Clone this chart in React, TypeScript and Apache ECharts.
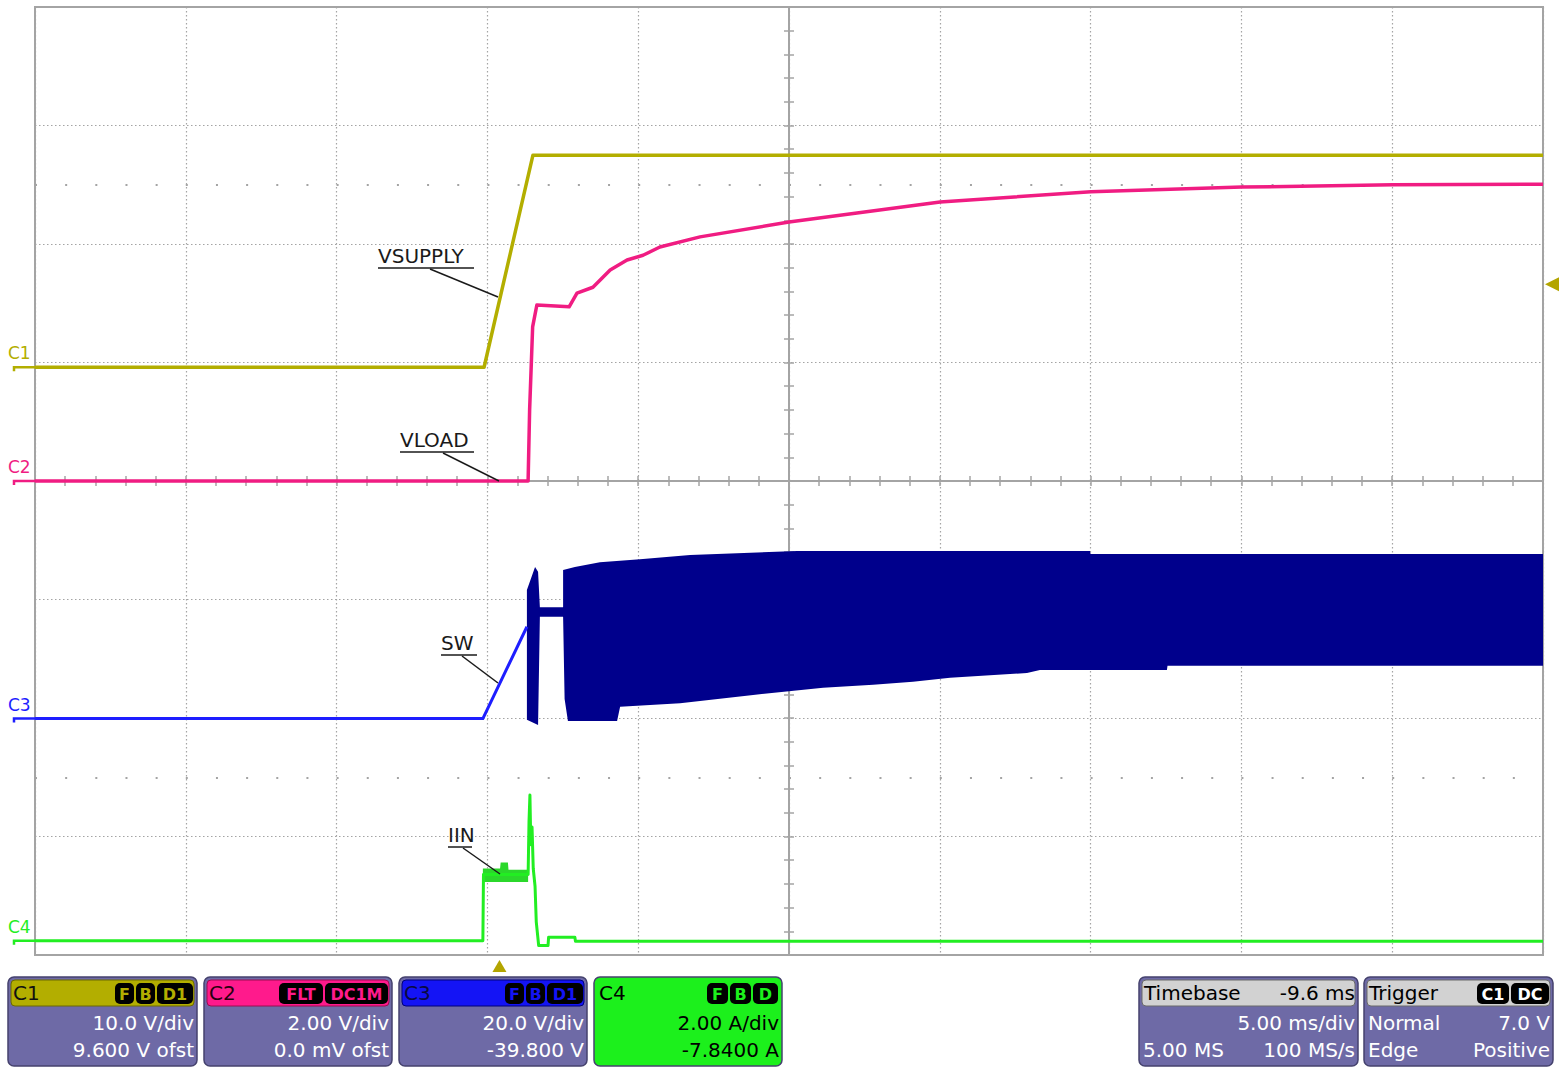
import React, { useEffect, useRef } from "react";
import * as echarts from "echarts";

// ---- Scope settings ----
const TIMEBASE_DELAY_MS = -9.6; // screen centre relative to trigger
const SCREEN_HALF_MS = 25; // 5 ms/div * 5 div
const DIV_HALF = 4;
const CH1 = { scale: 10, offset: 9.6 };
const CH2 = { scale: 2, offset: 0 };
const CH3 = { scale: 20, offset: -39.8 };
const CH4 = { scale: 2, offset: -7.84 };
const TRIGGER_LEVEL_V = 7.0;

// ---- Colours ----
const COL1 = "#b3ae00";
const COL2 = "#f01c82";
const COL3 = "#1e1eff";
const COL3_BAND = "#00008c";
const COL4 = "#22ee22";

// ---- C1 VSUPPLY (V), time in ms from trigger ----
const C1_T = [-15.4, -0.51, 1.11, 34.6];
const C1_V = [0, 0, 17.9, 17.9];

// ---- C2 VLOAD (V) ----
const C2_T = [-15.4, 0.95, 1.0, 1.1, 1.24, 2.31, 2.57, 3.1, 3.67, 4.23, 4.76, 5.32, 6.65, 9.6, 14.61, 19.61, 24.62, 29.63, 34.6];
const C2_V = [0, 0, 1.2, 2.6, 2.97, 2.94, 3.17, 3.27, 3.56, 3.73, 3.81, 3.95, 4.12, 4.37, 4.71, 4.88, 4.96, 5.0, 5.01];

// ---- C3 SW (V): trace before switching, then switching envelope ----
const C3_T = [-15.4, -0.55, 0.91];
const C3_V = [-0.3, -0.3, 15.2];
const SW_UP_T = [0.91, 1.18, 1.28, 1.34, 2.11, 2.11, 2.5, 3.33, 4.66, 6.32, 9.87, 19.58, 19.6, 34.6];
const SW_UP_V = [21.4, 25.3, 24.5, 18.5, 18.5, 24.8, 25.3, 26.1, 26.6, 27.3, 28.0, 28.0, 27.5, 27.5];
const SW_LO_T = [0.91, 1.28, 1.34, 2.11, 2.16, 2.27, 3.9, 4.0, 5.99, 8.41, 10.73, 12.39, 13.71, 14.94, 17.49, 17.92, 22.13, 22.15, 34.6];
const SW_LO_V = [-0.5, -1.4, 16.9, 16.9, 3.0, -0.7, -0.7, 1.7, 2.3, 3.7, 4.9, 5.4, 5.9, 6.6, 7.4, 7.9, 7.9, 8.6, 8.6];

// ---- C4 IIN (A) ----
const C4_T = [-15.4, -0.55, -0.53, 0.95, 0.98, 1.01, 1.04, 1.08, 1.12, 1.18, 1.22, 1.3, 1.61, 1.63, 2.5, 2.52, 34.6];
const C4_V = [0.08, 0.08, 1.2, 1.2, 2.1, 2.54, 1.7, 2.0, 1.3, 1.0, 0.4, 0.0, 0.0, 0.14, 0.14, 0.07, 0.07];
const IIN_UP_T = [-0.55, 0.02, 0.04, 0.28, 0.3, 0.95];
const IIN_UP_V = [1.3, 1.3, 1.4, 1.4, 1.28, 1.28];
const IIN_LO_T = [-0.55, 0.95];
const IIN_LO_V = [1.07, 1.07];

const FONT = "DejaVu Sans";

type Ch = { scale: number; offset: number };
const toPts = (T: number[], V: number[], ch: Ch) =>
  T.map((t, i) => [t + TIMEBASE_DELAY_MS, (V[i] + ch.offset) / ch.scale]);

function bandSeries(upT: number[], upV: number[], loT: number[], loV: number[], ch: Ch, color: string, z: number) {
  const up = toPts(upT, upV, ch);
  const lo = toPts(loT, loV, ch).reverse();
  return {
    type: "custom",
    coordinateSystem: "cartesian2d",
    data: [[0, 0]],
    silent: true,
    z,
    renderItem: (_p: any, api: any) => ({
      type: "polygon",
      shape: { points: up.concat(lo).map((p) => api.coord(p)) },
      style: { fill: color },
    }),
  };
}

function lineSeries(data: number[][], color: string, width: number, z: number) {
  return {
    type: "line",
    data,
    symbol: "none",
    silent: true,
    z,
    lineStyle: { color, width, join: "round" },
  };
}

function text(x: number, y: number, t: string, fill: string, size = 20, align = "left", weight = "normal") {
  return {
    type: "text",
    silent: true,
    z: 100,
    style: { x, y, text: t, fill, fontSize: size, fontFamily: FONT, align, verticalAlign: "middle", fontWeight: weight },
  };
}
function line(x1: number, y1: number, x2: number, y2: number, stroke = "#1a1a1a", w = 1.5) {
  return { type: "line", silent: true, z: 100, shape: { x1, y1, x2, y2 }, style: { stroke, lineWidth: w } };
}

type Badge = { t: string; w: number };
function panel(
  x: number,
  w: number,
  o: {
    body: string;
    head: string;
    headStroke: string;
    title: string;
    titleColor: string;
    titleRight?: string;
    badges: Badge[];
    badgeText: string;
    lines: { l?: string; r?: string }[];
    textColor: string;
  }
) {
  const els: any[] = [];
  const y = 977;
  els.push({ type: "rect", silent: true, z: 90, shape: { x, y, width: w, height: 89, r: 6 }, style: { fill: o.body, stroke: "#45426e", lineWidth: 1.5 } });
  els.push({ type: "rect", silent: true, z: 91, shape: { x: x + 3, y: y + 3, width: w - 6, height: 26, r: 4 }, style: { fill: o.head, stroke: o.headStroke, lineWidth: 1 } });
  els.push(text(x + 5, y + 16, o.title, o.titleColor, 20));
  if (o.titleRight) els.push(text(x + w - 3, y + 16, o.titleRight, o.titleColor, 20, "right"));
  let bx = x + w - 4;
  for (let i = o.badges.length - 1; i >= 0; i--) {
    const b = o.badges[i];
    bx -= b.w;
    els.push({ type: "rect", silent: true, z: 95, shape: { x: bx, y: y + 6, width: b.w, height: 21, r: 5 }, style: { fill: "#000" } });
    els.push(text(bx + b.w / 2, y + 17, b.t, o.badgeText, 16, "center", "bold"));
    bx -= 2;
  }
  const ly = [y + 46, y + 73];
  o.lines.forEach((ln, i) => {
    if (ln.l) els.push(text(x + 4, ly[i], ln.l, o.textColor, 20));
    if (ln.r) els.push(text(x + w - 3, ly[i], ln.r, o.textColor, 20, "right"));
  });
  return els;
}

export default function App() {
  const ref = useRef<HTMLDivElement>(null);
  useEffect(() => {
    if (!ref.current) return;
    const chart = echarts.init(ref.current, undefined, { renderer: "svg" });
    const grey = "#a4a4a4";
    const hideAll = { axisLabel: { show: false }, splitLine: { show: false } };
    const option: any = {
      animation: false,
      backgroundColor: "#ffffff",
      grid: { left: 35, top: 7, width: 1508, height: 948, show: true, borderColor: grey, borderWidth: 2, backgroundColor: "transparent" },
      xAxis: [
        {
          type: "value", min: -SCREEN_HALF_MS, max: SCREEN_HALF_MS, interval: 5,
          axisLine: { show: false }, axisTick: { show: false }, axisLabel: { show: false },
          splitLine: { show: true, lineStyle: { color: grey, type: [1.5, 2.5], width: 1.2 } },
        },
        {
          type: "value", min: -SCREEN_HALF_MS, max: SCREEN_HALF_MS, interval: 1, ...hideAll,
          axisLine: { show: true, onZero: true, lineStyle: { color: grey, width: 2 } },
          axisTick: { show: true, inside: true, length: 5, lineStyle: { color: grey, width: 1.5 } },
        },
        {
          type: "value", min: -SCREEN_HALF_MS, max: SCREEN_HALF_MS, interval: 1, ...hideAll,
          axisLine: { show: false, onZero: true },
          axisTick: { show: true, inside: false, length: 5, lineStyle: { color: grey, width: 1.5 } },
        },
      ],
      yAxis: [
        {
          type: "value", min: -DIV_HALF, max: DIV_HALF, interval: 1,
          axisLine: { show: false }, axisTick: { show: false }, axisLabel: { show: false },
          splitLine: { show: true, lineStyle: { color: grey, type: [1.5, 2.5], width: 1.2 } },
        },
        {
          type: "value", min: -DIV_HALF, max: DIV_HALF, interval: 0.2, ...hideAll,
          axisLine: { show: true, onZero: true, lineStyle: { color: grey, width: 2 } },
          axisTick: { show: true, inside: true, length: 5, lineStyle: { color: grey, width: 1.5 } },
        },
        {
          type: "value", min: -DIV_HALF, max: DIV_HALF, interval: 0.2, ...hideAll,
          axisLine: { show: false, onZero: true },
          axisTick: { show: true, inside: false, length: 5, lineStyle: { color: grey, width: 1.5 } },
        },
      ],
      series: [
        {
          type: "line", data: [], silent: true, z: 1,
          markLine: {
            silent: true, symbol: "none", label: { show: false },
            lineStyle: { color: grey, type: [2, 28.16], width: 2 },
            data: [{ yAxis: 2.5 }, { yAxis: -2.5 }],
          },
        },
        bandSeries(SW_UP_T, SW_UP_V, SW_LO_T, SW_LO_V, CH3, COL3_BAND, 3),
        lineSeries(toPts(C3_T, C3_V, CH3), COL3, 3, 3),
        bandSeries(IIN_UP_T, IIN_UP_V, IIN_LO_T, IIN_LO_V, CH4, "#2bd82b", 3),
        lineSeries(toPts(C4_T, C4_V, CH4), COL4, 3, 4),
        lineSeries(toPts(C2_T, C2_V, CH2), COL2, 3.5, 5),
        lineSeries(toPts(C1_T, C1_V, CH1), COL1, 3.5, 6),
      ],
    };
    chart.setOption(option);

    const px = (t: number) => chart.convertToPixel({ xAxisIndex: 0 }, t + TIMEBASE_DELAY_MS) as number;
    const py = (v: number, ch: Ch) => chart.convertToPixel({ yAxisIndex: 0 }, (v + ch.offset) / ch.scale) as number;

    const g: any[] = [];
    // channel ground markers
    const chans: [string, Ch, string, number][] = [
      ["C1", CH1, COL1, 0],
      ["C2", CH2, COL2, 0],
      ["C3", CH3, COL3, -0.3],
      ["C4", CH4, COL4, 0.08],
    ];
    chans.forEach(([name, ch, col, g0]) => {
      const gy = py(g0, ch);
      g.push(text(8, gy - 14, name, col, 17));
      g.push({ type: "polyline", silent: true, z: 100, shape: { points: [[14, gy + 4], [14, gy], [35, gy]] }, style: { stroke: col, lineWidth: 2.5, fill: null } });
    });
    // trigger markers
    const tx = px(0);
    g.push({ type: "polygon", silent: true, z: 100, shape: { points: [[tx - 7, 972], [tx + 7, 972], [tx, 960]] }, style: { fill: "#b3a500" } });
    const ty = py(TRIGGER_LEVEL_V, CH1);
    g.push({ type: "polygon", silent: true, z: 100, shape: { points: [[1545, ty], [1559, ty - 7], [1559, ty + 7]] }, style: { fill: "#b3a500" } });

    // annotations
    g.push(text(378, 256, "VSUPPLY", "#1a1a1a"), line(378, 268, 474, 268), line(430, 269, 498, 297));
    g.push(text(400, 440, "VLOAD", "#1a1a1a"), line(400, 452, 474, 452), line(443, 453, 499, 481));
    g.push(text(441, 643, "SW", "#1a1a1a"), line(441, 655, 477, 655), line(462, 656, 498, 683));
    g.push(text(448, 835, "IIN", "#1a1a1a"), line(448, 847, 472, 847), line(463, 848, 500, 874));

    // bottom panels
    const body = "#6e6aa6";
    g.push(
      ...panel(8, 189, {
        body, head: COL1, headStroke: "#6d6a00", title: "C1", titleColor: "#111",
        badges: [{ t: "F", w: 19 }, { t: "B", w: 19 }, { t: "D1", w: 36 }], badgeText: COL1,
        lines: [{ r: "10.0 V/div" }, { r: "9.600 V ofst" }], textColor: "#fff",
      }),
      ...panel(204, 188, {
        body, head: "#ff1a8c", headStroke: "#9a0c50", title: "C2", titleColor: "#2a0010",
        badges: [{ t: "FLT", w: 44 }, { t: "DC1M", w: 63 }], badgeText: "#ff1a8c",
        lines: [{ r: "2.00 V/div" }, { r: "0.0 mV ofst" }], textColor: "#fff",
      }),
      ...panel(399, 188, {
        body, head: "#1414f5", headStroke: "#00007a", title: "C3", titleColor: "#0a0a40",
        badges: [{ t: "F", w: 19 }, { t: "B", w: 19 }, { t: "D1", w: 36 }], badgeText: "#1414f5",
        lines: [{ r: "20.0 V/div" }, { r: "-39.800 V" }], textColor: "#fff",
      }),
      ...panel(594, 188, {
        body: "#1cf01c", head: "#1cf01c", headStroke: "#1cf01c", title: "C4", titleColor: "#000",
        badges: [{ t: "F", w: 21 }, { t: "B", w: 21 }, { t: "D", w: 25 }], badgeText: "#1cf01c",
        lines: [{ r: "2.00 A/div" }, { r: "-7.8400 A" }], textColor: "#000",
      }),
      ...panel(1139, 219, {
        body, head: "#d2d2d2", headStroke: "#6a6a6a", title: "Timebase", titleColor: "#000", titleRight: "-9.6 ms",
        badges: [], badgeText: "#fff",
        lines: [{ r: "5.00 ms/div" }, { l: "5.00 MS", r: "100 MS/s" }], textColor: "#fff",
      }),
      ...panel(1364, 189, {
        body, head: "#d2d2d2", headStroke: "#6a6a6a", title: "Trigger", titleColor: "#000",
        badges: [{ t: "C1", w: 32 }, { t: "DC", w: 38 }], badgeText: "#fff",
        lines: [{ l: "Normal", r: "7.0 V" }, { l: "Edge", r: "Positive" }], textColor: "#fff",
      })
    );

    chart.setOption({ graphic: { elements: g } });
    return () => chart.dispose();
  }, []);
  return (
    <div
      ref={ref}
      style={{ position: "absolute", left: 0, top: 0, width: 1563, height: 1068, background: "#fff" }}
    />
  );
}
